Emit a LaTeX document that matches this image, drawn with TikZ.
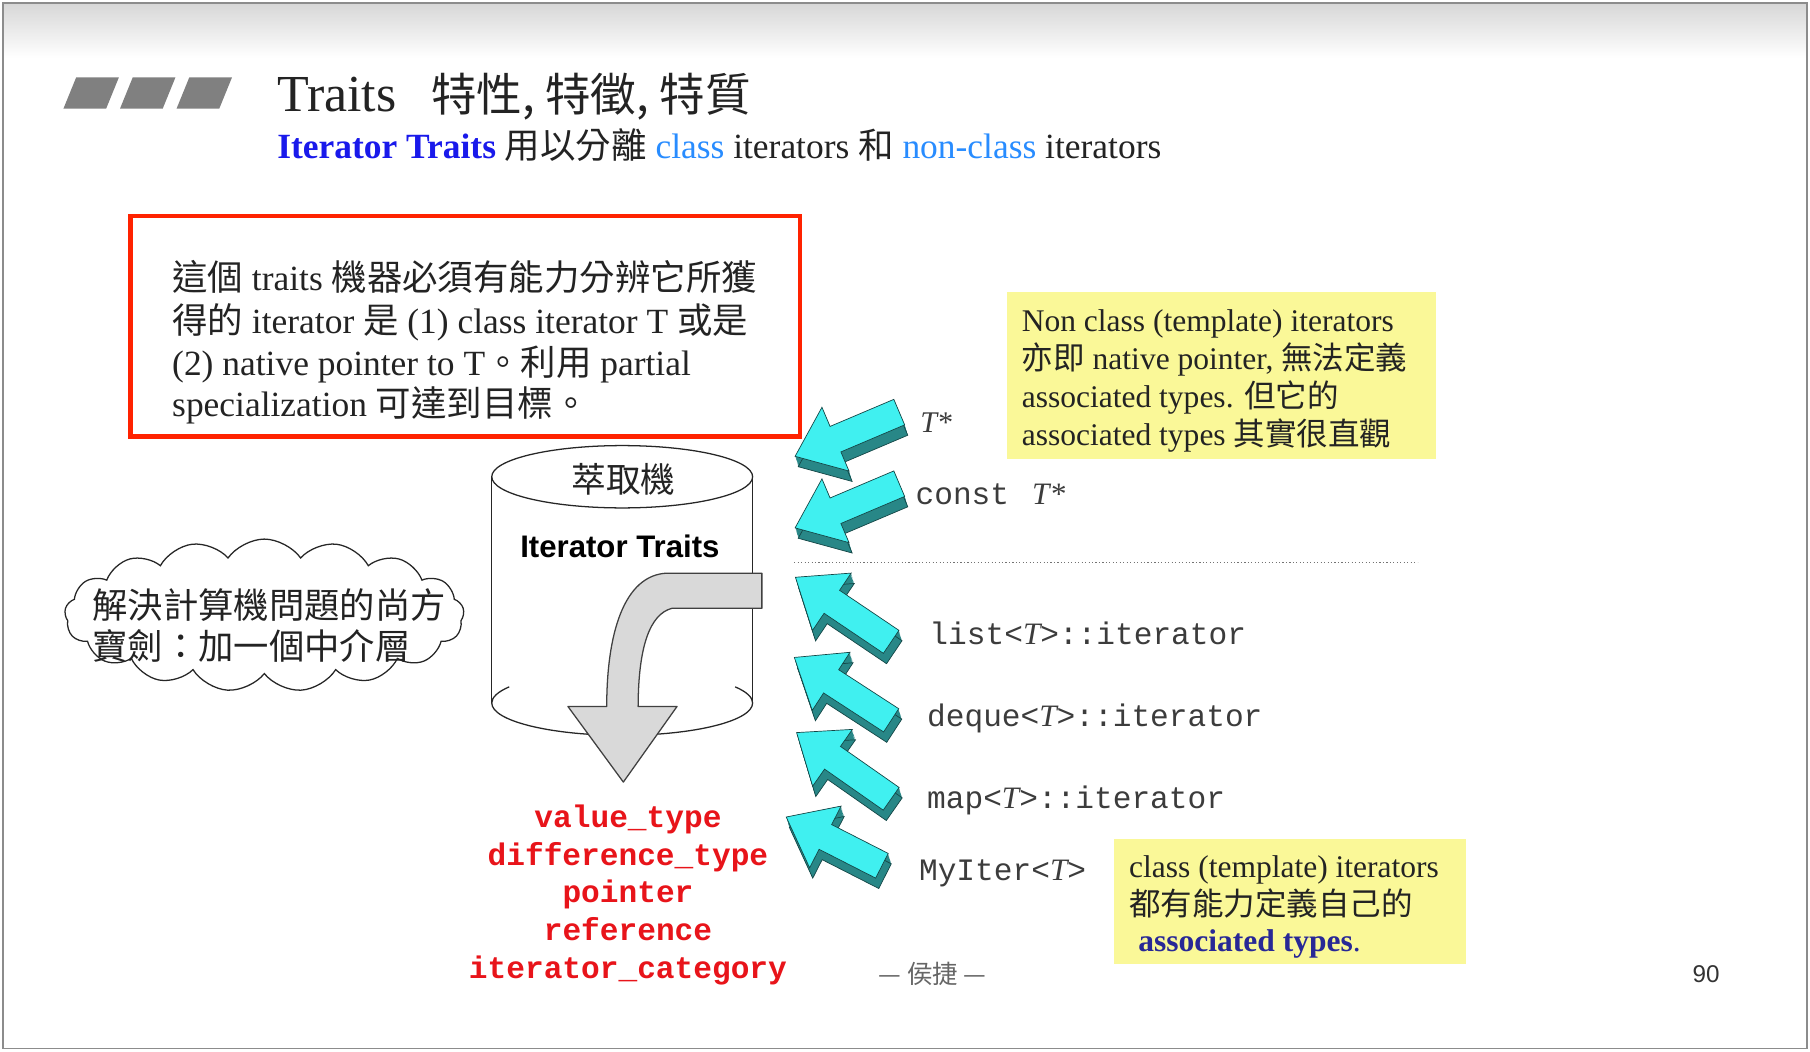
\documentclass[tikz,border=0pt]{standalone}
\usepackage{fontspec}
\setmainfont{Liberation Serif}
\newfontfamily\cjk{Noto Sans CJK TC}
\newfontfamily\cour{Liberation Mono}
\newfontfamily\arial{Liberation Sans}
\usetikzlibrary{shapes.symbols}

\definecolor{titlegrey}{RGB}{128,128,128}
\definecolor{deepblue}{RGB}{25,25,235}
\definecolor{skyblue}{RGB}{40,140,255}
\definecolor{navyblue}{RGB}{40,40,150}
\definecolor{boxred}{RGB}{255,34,0}
\definecolor{typered}{RGB}{232,20,26}
\definecolor{noteyellow}{RGB}{250,248,152}
\definecolor{arrowcyan}{RGB}{64,240,240}
\definecolor{arrowteal}{RGB}{40,135,135}
\definecolor{arrowedge}{RGB}{20,70,70}
\definecolor{inkgrey}{RGB}{35,35,35}
\definecolor{codegrey}{RGB}{60,60,60}
\definecolor{bandgrey}{RGB}{217,217,217}

\newcommand\zh[1]{{\cjk #1}}
\newcommand\fs[1]{\fontsize{#1}{#1}\selectfont}
\newcommand\tit{{\normalfont\itshape T}}

% one extruded block arrow: name, tail point, direction, length
\newcommand\iterarrow[4]{%
  \coordinate (#1) at (#2);
  \foreach \d in {9,8,...,1} {
    \begin{scope}[shift={(#1)}, shift={(0.3*\d,\d)}, rotate=#3]
      \path[fill=arrowteal] (0,12) -- ({#4-38},12) -- ({#4-38},30) -- (#4,0)
        -- ({#4-38},-30) -- ({#4-38},-12) -- (0,-12) -- cycle;
    \end{scope}
  }
  \begin{scope}[shift={(#1)}, shift={(2.7,9)}, rotate=#3]
    \draw[arrowedge, line width=0.6pt] (0,12) -- ({#4-38},12) -- ({#4-38},30) -- (#4,0)
      -- ({#4-38},-30) -- ({#4-38},-12) -- (0,-12) -- cycle;
  \end{scope}
  \begin{scope}[shift={(#1)}, rotate=#3]
    \draw[fill=arrowcyan, draw=arrowedge, line width=0.6pt] (0,12) -- ({#4-38},12)
      -- ({#4-38},30) -- (#4,0) -- ({#4-38},-30) -- ({#4-38},-12) -- (0,-12) -- cycle;
  \end{scope}
}

\tikzset{
  txt/.style={anchor=base west, inner sep=0pt, text=inkgrey},
  code/.style={anchor=base west, inner sep=0pt, text=codegrey, font=\cour\fs{27}},
  typename/.style={anchor=base, inner sep=0pt, text=typered, font=\cour\bfseries\fs{27}},
  cyl/.style={line width=1.1pt, draw=black!85},
}

\begin{document}
\begin{tikzpicture}[x=1pt, y=-1pt]
\useasboundingbox (0,0) rectangle (1568,911);
\fill[white] (0,0) rectangle (1568,911);
\shade[top color=black!16, bottom color=white] (2,2) rectangle (1566,50);

% heading bars
\foreach \o in {0,49,98}
  \fill[titlegrey] ({55+\o},94) -- ({92+\o},94) -- ({103+\o},67) -- ({66+\o},67) -- cycle;

\node[txt] (title) at (240,97) {\fs{45}Traits\hspace{30pt}\zh{\fs{39.5}特性, 特徵, 特質}};
\node[txt] (subtitle) at (240,137) {\fs{30.7}{\bfseries\color{deepblue}Iterator Traits} \zh{用以分離} {\color{skyblue}class} iterators \zh{和} {\color{skyblue}non-class} iterators};

% framed note
\node[draw=boxred, line width=4pt, minimum width=580pt, minimum height=191pt, anchor=north west, inner sep=0pt] (notebox) at (111,185) {};
\node[txt] (note1) at (149,252) {\fs{30.7}\zh{這個} traits \zh{機器必須有能力分辨它所獲}};
\node[txt] (note2) at (149,289) {\fs{30.7}\zh{得的} iterator \zh{是} (1) class iterator T \zh{或是}};
\node[txt] (note3) at (149,325) {\fs{30.7}(2) native pointer to T\zh{。利用} partial};
\node[txt] (note4) at (149,361) {\fs{30.7}specialization \zh{可達到目標。}};

% yellow notes
\node[fill=noteyellow, minimum width=372pt, minimum height=144pt, anchor=north west, inner sep=0pt] (nonclassbox) at (872,253) {};
\node[txt] (nc1) at (885,287) {\fs{27.3}Non class (template) iterators};
\node[txt] (nc2) at (885,320) {\fs{27.3}\zh{亦即} native pointer, \zh{無法定義}};
\node[txt] (nc3) at (885,353) {\fs{27.3}associated types. \zh{但它的}};
\node[txt] (nc4) at (885,386) {\fs{27.3}associated types \zh{其實很直觀}};

\node[fill=noteyellow, minimum width=305pt, minimum height=108pt, anchor=north west, inner sep=0pt] (classbox) at (965,727) {};
\node[txt] (cl1) at (978,760) {\fs{27.3}class (template) iterators};
\node[txt] (cl2) at (978,793) {\fs{27.3}\zh{都有能力定義自己的}};
\node[txt] (cl3) at (986,824) {\fs{27.3}{\bfseries\color{navyblue}associated types}{\color{navyblue}.}};

% cloud
\node[cloud, draw=black!85, line width=1.1pt, cloud puffs=17, cloud puff arc=110, aspect=2.6,
      minimum width=346pt, minimum height=132pt, inner sep=0pt] (cloud) at (229,533) {};
\node[txt] (cloud1) at (80,536) {\zh{\fs{30.6}解決計算機問題的尚方}};
\node[txt] (cloud2) at (80,571) {\zh{\fs{30.6}寶劍：加一個中介層}};

% extractor cylinder
\coordinate (cyltop) at (539,413);
\draw[cyl] (426,413) -- (426,609) (652,413) -- (652,609);
\draw[cyl] (cyltop) ellipse [x radius=113pt, y radius=27pt];
\draw[cyl] (426,609) arc[start angle=180, end angle=360, x radius=113pt, y radius=28pt];
\draw[cyl] (426,609) arc[start angle=180, end angle=150, x radius=113pt, y radius=28pt];
\draw[cyl] (652,609) arc[start angle=0, end angle=30, x radius=113pt, y radius=28pt];
\node[inner sep=0pt, text=inkgrey] (extractor) at (540,415) {\zh{\fs{30}萃取機}};
\node[inner sep=0pt] (ittraits) at (537,473) {\arial\bfseries\fs{27}Iterator Traits};

% bent grey arrow out of the cylinder
\draw[fill=bandgrey, draw=black!75, line width=1.1pt, line join=round]
  (660,496.5) -- (578,496.5) .. controls (540,498) and (525.6,550) .. (525.6,612)
  -- (492,612) -- (540,677.5) -- (586.5,612) -- (552.8,612)
  .. controls (553,560) and (563,532) .. (582,527) -- (660,527) -- cycle;

% extracted associated types
\node[typename] (vt) at (544,717) {value\_type};
\node[typename] (dt) at (544,750) {difference\_type};
\node[typename] (pt) at (544,782) {pointer};
\node[typename] (rf) at (544,815) {reference};
\node[typename] (ic) at (544,848) {iterator\_category};

% incoming iterator kinds
\iterarrow{arrA}{779,357}{203}{98}
\iterarrow{arrB}{779,419}{203}{98}
\iterarrow{arrC}{772,556}{146}{100}
\iterarrow{arrD}{772,624}{147}{100}
\iterarrow{arrE}{772,692}{145}{100}
\iterarrow{arrF}{764,750}{153}{93}

\node[txt, text=codegrey] (tptr) at (797,375) {\fs{26}\itshape T*};
\node[code] (ctptr) at (793,437) {const\hspace{20pt}{\normalfont\itshape T*}};

\coordinate (sepL) at (688,487);
\coordinate (sepR) at (1228,487);
\draw[dotted, line width=1pt, black!55] (sepL) -- (sepR);

\node[code] (listit) at (805,558) {list<\tit>::iterator};
\node[code] (dequeit) at (803,629) {deque<\tit>::iterator};
\node[code] (mapit) at (803,700) {map<\tit>::iterator};
\node[code] (myit) at (796,763) {MyIter<\tit>};

% footer
\node[anchor=base, inner sep=0pt, text=black!60] (author) at (808,852) {\zh{\fs{22}— 侯捷 —}};
\node[anchor=base, inner sep=0pt, text=black!80] (page) at (1478,851) {\arial\fs{21}90};

% slide frame
\draw[black!45, line width=1.3pt] (2.5,2.5) rectangle (1565.5,908.5);
\end{tikzpicture}
\end{document}
